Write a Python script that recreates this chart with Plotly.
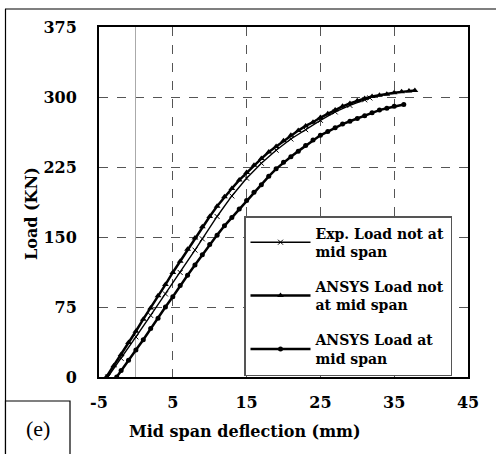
import plotly.graph_objects as go

# ---- data ----
exp_x = [-3.8, -2, 0, 2, 4, 6, 8, 9, 11, 13, 15, 17, 19, 21, 23, 25, 27, 29, 31, 31.7]
exp_y = [0, 20, 43, 66, 89, 112, 136, 148, 172, 194, 213, 229, 243, 255, 265, 275, 284, 291, 297, 299]

ans_nm_x = [-4, -3, -2, -1, 0, 1, 2, 3, 4, 5, 6, 7, 8, 9, 10, 11, 12, 13, 14, 15, 16, 17, 18, 19, 20,
            21, 22, 23, 24, 25, 26, 27, 28, 29, 30, 31, 32, 33, 34, 35, 36, 37, 37.8]
ans_nm_y = [0, 12, 24, 37, 49, 62, 74, 87, 99, 112, 124, 137, 149, 161, 172, 183, 193, 202, 211, 219, 227,
            234, 241, 247, 253, 259, 264, 269, 273, 278, 282, 286, 290, 293, 296, 298.5, 300.5, 302, 303,
            304.5, 305.5, 306.5, 307]

ans_m_x = [-2.6, -2, -1, 0, 1, 2, 3, 4, 5, 6, 7, 8, 9, 10, 11, 12, 13, 14, 15, 16, 17, 18, 19, 20,
           21, 22, 23, 24, 25, 26, 27, 28, 29, 30, 31, 32, 33, 34, 35, 36.3]
ans_m_y = [0, 7, 18, 29, 40, 52, 63, 75, 86, 98, 109, 120, 131, 142, 152, 162, 171, 180, 189, 198, 206,
           215, 223, 230, 236, 242, 248, 254, 259, 263, 267, 271, 274, 277, 280, 283, 286, 288, 290, 292]

x_ticks = [-5, 5, 15, 25, 35, 45]
y_ticks = [0, 75, 150, 225, 300, 375]

names = ["Exp. Load not at<br>mid span", "ANSYS Load not<br>at mid span", "ANSYS Load at<br>mid span"]

# ---- layout geometry (pixels) ----
W, H = 496, 454
L, R, T, B = 99, 28, 27, 77
PW, PH = W - L - R, H - T - B


def px(x):
    return (x - L) / PW


def py(y):
    return (H - B - y) / PH


serif = "DejaVu Serif"
times = "Liberation Serif"

fig = go.Figure()
fig.add_trace(go.Scatter(x=exp_x, y=exp_y, name="<b>" + names[0] + "&nbsp;&nbsp;&nbsp;&nbsp;</b>",
                         mode="lines+markers", legendgroup="a",
                         line=dict(color="black", width=1.4),
                         marker=dict(symbol="x-thin", size=5, color="black",
                                     line=dict(color="black", width=1))))
fig.add_trace(go.Scatter(x=ans_nm_x, y=ans_nm_y, name="<b>" + names[1] + "</b>", mode="lines+markers",
                         legendgroup="b",
                         line=dict(color="black", width=2.5),
                         marker=dict(symbol="triangle-up", size=6, color="black")))
fig.add_trace(go.Scatter(x=ans_m_x, y=ans_m_y, name="<b>" + names[2] + "</b>", mode="lines+markers",
                         legendgroup="c",
                         line=dict(color="black", width=2.5),
                         marker=dict(symbol="circle", size=5, color="black")))

axis_common = dict(showline=True, linecolor="black", linewidth=2, mirror=True,
                   showgrid=True, gridcolor="#555555", gridwidth=1, griddash="dash",
                   ticks="", tickfont=dict(family=serif, size=16, color="black"))

fig.update_xaxes(range=[-5, 45], tickvals=x_ticks, ticktext=["<b>%d</b>" % v for v in x_ticks],
                 zeroline=True, zerolinecolor="#aaaaaa", zerolinewidth=1.2,
                 ticklabelstandoff=10, **axis_common)
fig.update_yaxes(range=[0, 375], tickvals=y_ticks, ticktext=["<b>%d</b>" % v for v in y_ticks],
                 zeroline=False, ticklabelstandoff=17, **axis_common)

shapes = [
    dict(type="line", xref="paper", yref="paper", x0=px(5), x1=px(497), y0=py(9), y1=py(9),
         line=dict(color="black", width=1.2)),
    dict(type="line", xref="paper", yref="paper", x0=px(5.5), x1=px(5.5), y0=py(9), y1=py(456),
         line=dict(color="black", width=1.2)),
    dict(type="rect", xref="paper", yref="paper", x0=px(5.5), x1=px(70), y0=py(401), y1=py(458),
         line=dict(color="black", width=1.2), fillcolor="white"),
]

annotations = [
    dict(text="(e)", xref="paper", yref="paper", x=px(38), y=py(428), showarrow=False,
         font=dict(family=times, size=22, color="black"), xanchor="center", yanchor="middle"),
    dict(text="<b>Mid span deflection (mm)</b>", xref="paper", yref="paper", x=px(245), y=py(432),
         showarrow=False, font=dict(family=serif, size=16, color="black"),
         xanchor="center", yanchor="middle"),
    dict(text="<b>Load (KN)</b>", xref="paper", yref="paper", x=px(31), y=py(214), textangle=-90,
         showarrow=False, font=dict(family=serif, size=16, color="black"),
         xanchor="center", yanchor="middle"),
]

fig.update_layout(
    width=W, height=H, margin=dict(l=L, r=R, t=T, b=B),
    paper_bgcolor="white", plot_bgcolor="white",
    shapes=shapes, annotations=annotations,
    legend=dict(x=px(244), y=py(216), xanchor="left", yanchor="top",
                bgcolor="white", bordercolor="#555555", borderwidth=1.5,
                font=dict(family=serif, size=14, color="black"),
                itemwidth=60, tracegroupgap=14, valign="middle"),
    showlegend=True,
)

fig.write_html("out.html")
